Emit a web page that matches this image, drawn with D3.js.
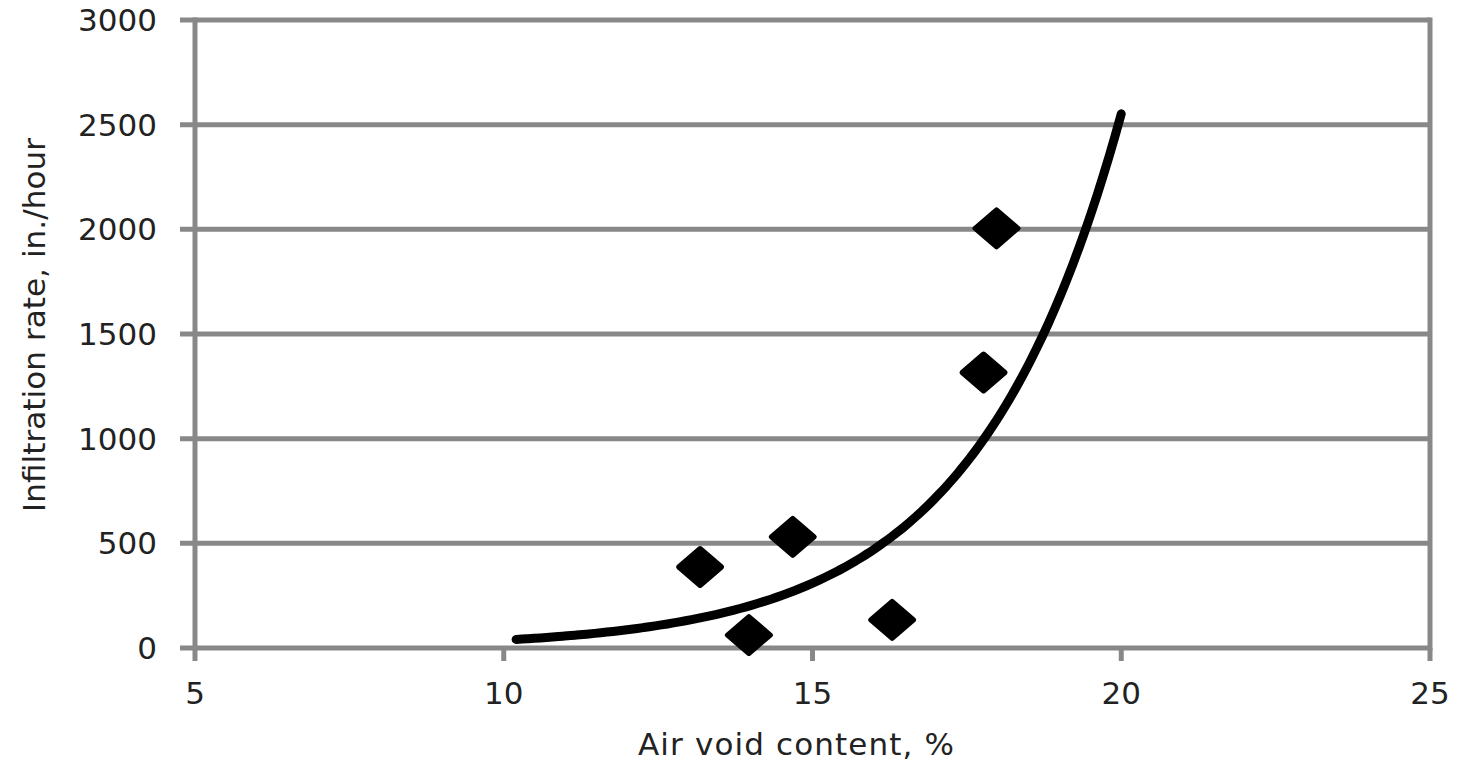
<!DOCTYPE html>
<html>
<head>
<meta charset="utf-8">
<script src="https://cdn.jsdelivr.net/npm/d3@7"></script>
<style>
  body { margin: 0; background: #fff; }
  text { font-family: "DejaVu Sans", sans-serif; fill: #222; }
</style>
</head>
<body>
<svg id="chart"></svg>
<script>
var width = 1457, height = 764;
var margin = {top: 20, right: 27, bottom: 116, left: 195};

// measured samples
var airVoid = [13.18, 13.97, 14.68, 16.29, 17.77, 17.98];
var infiltration = [387, 62, 531, 134, 1316, 2005];

// trendline range (exponential fit, as in the spreadsheet)
var trendFrom = 10.2, trendTo = 20;

var xTicks = [5, 10, 15, 20, 25];
var yTicks = [0, 500, 1000, 1500, 2000, 2500, 3000];

var svg = d3.select("#chart").attr("width", width).attr("height", height);

var x = d3.scaleLinear().domain([5, 25]).range([margin.left, width - margin.right]);
var y = d3.scaleLinear().domain([0, 3000]).range([height - margin.bottom, margin.top]);

var grey = "#888";

// horizontal gridlines + left ticks
svg.append("g").selectAll("line")
  .data(yTicks).enter().append("line")
  .attr("x1", margin.left - 15).attr("x2", width - margin.right)
  .attr("y1", function(d) { return y(d); }).attr("y2", function(d) { return y(d); })
  .attr("stroke", grey).attr("stroke-width", 5);

// left axis and right border
svg.append("line")
  .attr("x1", margin.left).attr("x2", margin.left)
  .attr("y1", y(3000) - 2.5).attr("y2", y(0) + 2.5)
  .attr("stroke", grey).attr("stroke-width", 5);
svg.append("line")
  .attr("x1", width - margin.right).attr("x2", width - margin.right)
  .attr("y1", y(3000) - 2.5).attr("y2", y(0) + 2.5)
  .attr("stroke", grey).attr("stroke-width", 5);

// x ticks
svg.append("g").selectAll("line")
  .data(xTicks).enter().append("line")
  .attr("x1", function(d) { return x(d); }).attr("x2", function(d) { return x(d); })
  .attr("y1", y(0)).attr("y2", y(0) + 13)
  .attr("stroke", grey).attr("stroke-width", 5);

// tick labels
svg.append("g").selectAll("text")
  .data(yTicks).enter().append("text")
  .attr("x", margin.left - 38).attr("y", function(d) { return y(d); })
  .attr("dy", "0.36em").attr("text-anchor", "end")
  .style("font-size", "31px")
  .text(function(d) { return d; });

svg.append("g").selectAll("text")
  .data(xTicks).enter().append("text")
  .attr("x", function(d) { return x(d); }).attr("y", y(0) + 56)
  .attr("text-anchor", "middle")
  .style("font-size", "31px")
  .text(function(d) { return d; });

// axis titles
svg.append("text")
  .attr("x", 796).attr("y", 755)
  .attr("text-anchor", "middle")
  .attr("textLength", 316)
  .style("font-size", "31px")
  .text("Air void content, %");

svg.append("text")
  .attr("transform", "translate(45,325) rotate(-90)")
  .attr("text-anchor", "middle")
  .attr("textLength", 374)
  .style("font-size", "31px")
  .text("Infiltration rate, in./hour");

// exponential trendline: least squares on ln(y)
var lnY = infiltration.map(function(v) { return Math.log(v); });
var mx = d3.mean(airVoid), my = d3.mean(lnY);
var sxy = d3.sum(airVoid, function(v, i) { return (v - mx) * (lnY[i] - my); });
var sxx = d3.sum(airVoid, function(v) { return (v - mx) * (v - mx); });
var b = sxy / sxx, a = Math.exp(my - b * mx);

var trend = d3.range(0, 101).map(function(i) {
  var xv = trendFrom + (trendTo - trendFrom) * i / 100;
  return [xv, a * Math.exp(b * xv)];
});

var line = d3.line()
  .x(function(d) { return x(d[0]); })
  .y(function(d) { return y(d[1]); })
  .curve(d3.curveMonotoneX);

svg.append("path")
  .attr("d", line(trend))
  .attr("fill", "none")
  .attr("stroke", "#000")
  .attr("stroke-width", 9)
  .attr("stroke-linecap", "round");

// diamond markers
var hw = 21.5, hh = 18.5;
svg.append("g").selectAll("path")
  .data(airVoid).enter().append("path")
  .attr("transform", function(d, i) { return "translate(" + x(d) + "," + y(infiltration[i]) + ")"; })
  .attr("d", "M0," + (-hh) + "L" + hw + ",0L0," + hh + "L" + (-hw) + ",0Z")
  .attr("fill", "#000")
  .attr("stroke", "#000")
  .attr("stroke-width", 5)
  .attr("stroke-linejoin", "round");
</script>
</body>
</html>
